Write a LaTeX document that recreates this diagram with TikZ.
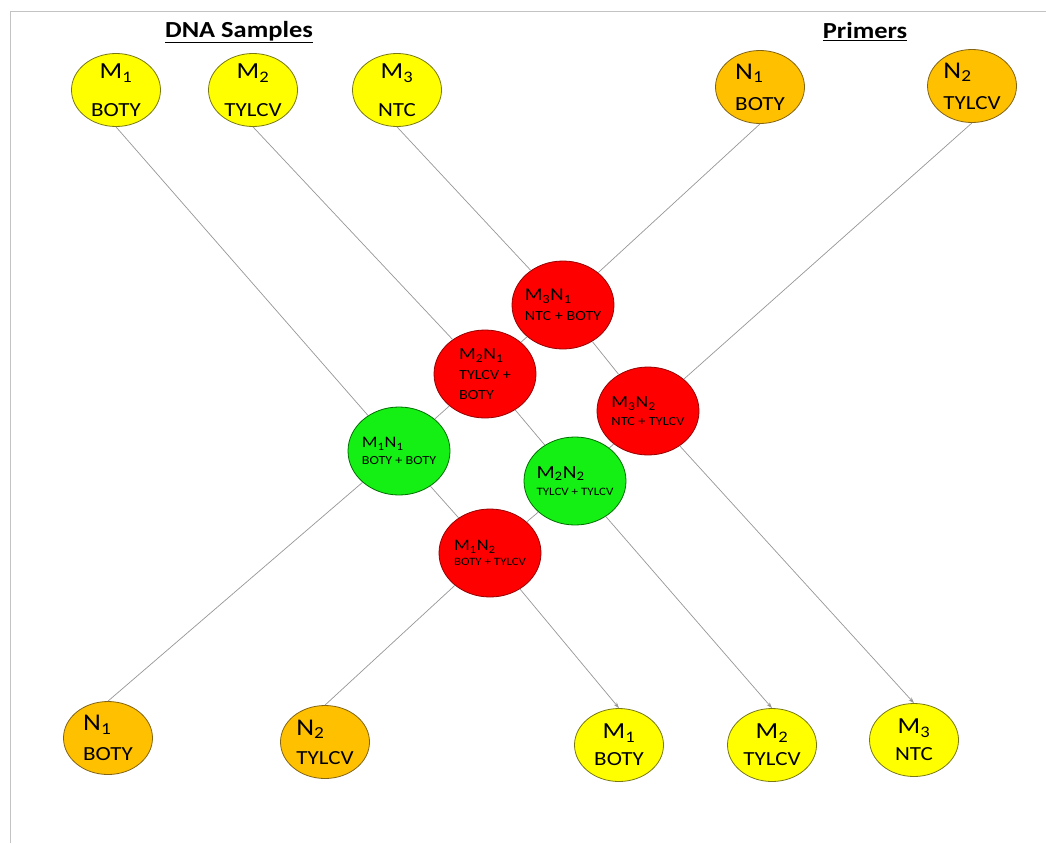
\documentclass[tikz,border=0pt]{standalone}
\usepackage{fontspec}
\setmainfont{Carlito}
\usepackage{graphicx}
\usetikzlibrary{shapes.geometric,arrows.meta}
\definecolor{yel}{RGB}{255,255,0}
\definecolor{yelb}{RGB}{120,120,20}
\definecolor{org}{RGB}{255,192,0}
\definecolor{orgb}{RGB}{130,100,20}
\definecolor{redf}{RGB}{255,0,0}
\definecolor{redb}{RGB}{150,0,0}
\definecolor{grnf}{RGB}{20,240,20}
\definecolor{grnb}{RGB}{0,110,0}
\definecolor{linec}{RGB}{150,150,150}
\definecolor{bordc}{RGB}{195,195,195}
\newcommand{\sx}[1]{\scalebox{1.15}[1]{#1}}
\newcommand{\fs}[1]{\fontsize{#1}{#1}\selectfont}
\begin{document}
\begin{tikzpicture}[x=1pt,y=-1pt,
  base/.style={ellipse, inner sep=-8pt, line width=0.8pt, text=black},
  ynode/.style={base, fill=yel, draw=yelb, minimum width=89pt, minimum height=73pt, align=center, font=\fs{20}},
  onode/.style={base, fill=org, draw=orgb, minimum width=89pt, minimum height=73pt, align=left, font=\fs{20}},
  rnode/.style={base, fill=redf, draw=redb, minimum width=102pt, minimum height=88pt, align=left},
  gnode/.style={base, fill=grnf, draw=grnb, minimum width=102pt, minimum height=88pt, align=left},
  link/.style={draw=linec, line width=0.7pt},
  arr/.style={link, -{Stealth[length=6pt,width=4pt]}},
  head/.style={font=\fs{23}\bfseries, inner sep=0pt}
]
\useasboundingbox (0,0) rectangle (1046,843);
\draw[bordc, line width=1pt] (10,843) -- (10,12) -- (1046,12);

% headers
\node[head] (hdna) at (239,32) {\sx{\underline{DNA Samples}}};
\node[head] (hpri) at (865,32) {\sx{\underline{Primers}}};

% top row
\node[ynode] (M1t) at (116,90) {\sx{\fs{23}M\textsubscript{1}}\\[18pt]\sx{BOTY}};
\node[ynode] (M2t) at (253,90) {\sx{\fs{23}M\textsubscript{2}}\\[18pt]\sx{TYLCV}};
\node[ynode] (M3t) at (397,90) {\sx{\fs{23}M\textsubscript{3}}\\[18pt]\sx{NTC}};
\node[onode] (N1t) at (760,87) {\sx{\fs{24}N\textsubscript{1}}\\[11pt]\sx{BOTY}};
\node[onode] (N2t) at (972,86) {\sx{\fs{24}N\textsubscript{2}}\\[11pt]\sx{TYLCV}};

% middle
\node[rnode, font=\fs{14}] (M3N1) at (563,305) {\sx{\fs{18}M\textsubscript{3}N\textsubscript{1}}\\[6pt]\sx{NTC + BOTY}};
\node[rnode, font=\fs{14}] (M2N1) at (485,374) {\sx{\fs{17}M\textsubscript{2}N\textsubscript{1}}\\[6pt]\sx{TYLCV +}\\[6pt]\sx{BOTY}};
\node[rnode, font=\fs{12.5}] (M3N2) at (648,411) {\sx{\fs{17}M\textsubscript{3}N\textsubscript{2}}\\[5.5pt]\sx{NTC + TYLCV}};
\node[gnode, font=\fs{12.3}] (M1N1) at (399,451) {\sx{\fs{16}M\textsubscript{1}N\textsubscript{1}}\\[4.7pt]\sx{BOTY + BOTY}};
\node[gnode, font=\fs{11.3}] (M2N2) at (575,481) {\sx{\fs{18.5}M\textsubscript{2}N\textsubscript{2}}\\[6pt]\sx{TYLCV + TYLCV}};
\node[rnode, font=\fs{11.2}] (M1N2) at (490,553) {\sx{\fs{16}M\textsubscript{1}N\textsubscript{2}}\\[4pt]\sx{BOTY + TYLCV}};

% bottom row
\node[onode] (N1b) at (108,738) {\sx{\fs{24}N\textsubscript{1}}\\[10pt]\sx{BOTY}};
\node[onode] (N2b) at (325,742) {\sx{\fs{24}N\textsubscript{2}}\\[9pt]\sx{TYLCV}};
\node[ynode] (M1b) at (619,745) {\sx{\fs{23}M\textsubscript{1}}\\[7pt]\sx{BOTY}};
\node[ynode] (M2b) at (772,745) {\sx{\fs{23}M\textsubscript{2}}\\[7pt]\sx{TYLCV}};
\node[ynode] (M3b) at (914,740) {\sx{\fs{23}M\textsubscript{3}}\\[7pt]\sx{NTC}};

% connectors
\draw[arr] (M1t.south) -- (M1N1) -- (M1N2) -- (M1b.north);
\draw[arr] (M2t.south) -- (M2N1) -- (M2N2) -- (M2b.north);
\draw[arr] (M3t.south) -- (M3N1) -- (M3N2) -- (M3b.north);
\draw[link] (N1t.south) -- (M3N1) -- (M2N1) -- (M1N1) -- (N1b.north);
\draw[link] (N2t.south) -- (M3N2) -- (M2N2) -- (M1N2) -- (N2b.north);
\end{tikzpicture}
\end{document}
